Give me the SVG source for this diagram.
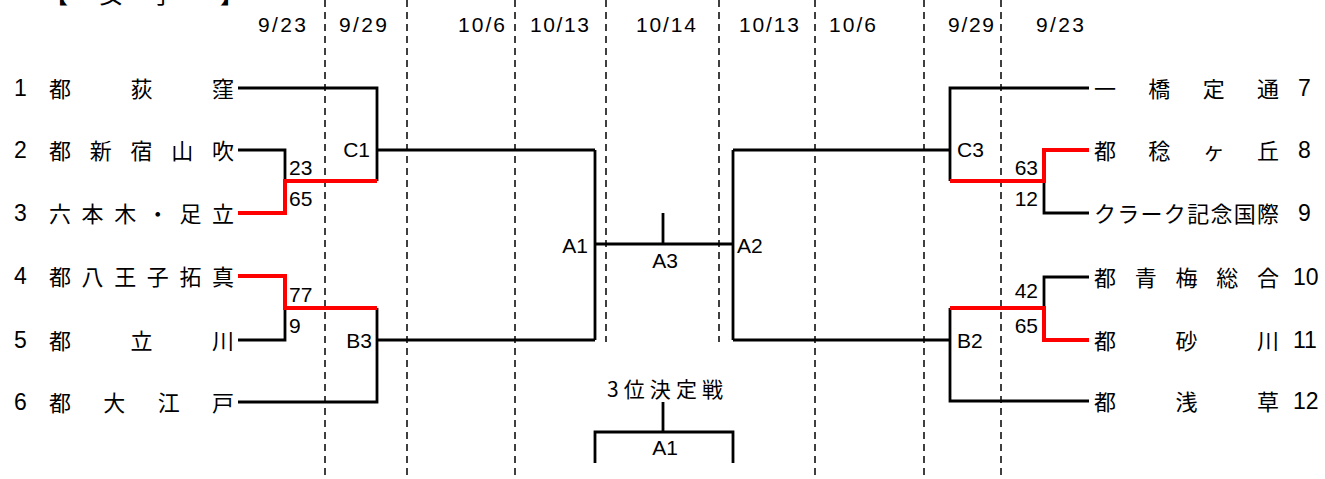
<svg xmlns="http://www.w3.org/2000/svg" width="1325" height="479" viewBox="0 0 1325 479">
<style>
.ln{stroke:#000;stroke-width:2.8;fill:none}
.win{stroke:#ff0000;stroke-width:4;fill:none}
.dash{stroke:#000;stroke-width:1.5;stroke-dasharray:7 5;fill:none}
.name{font-family:"Noto Sans CJK JP","Noto Sans CJK SC",sans-serif;font-size:22px;fill:#000}
.num{font-family:"Liberation Sans",Arial,sans-serif;font-size:23px;fill:#000}
.lbl{font-family:"Liberation Sans",Arial,sans-serif;font-size:21px;fill:#000}
.date{font-family:"Liberation Sans",Arial,sans-serif;font-size:21px;fill:#000}
</style>
<rect width="1325" height="479" fill="#fff"/>
<g id="title">
<text class="name" y="3" x="44 99 151 220" style="font-size:24px">【女子】</text>
</g>
<g id="grid">
<line class="dash" x1="325" y1="0" x2="325" y2="479"/>
<line class="dash" x1="407" y1="0" x2="407" y2="479"/>
<line class="dash" x1="515" y1="0" x2="515" y2="479"/>
<line class="dash" x1="606" y1="0" x2="606" y2="342"/>
<line class="dash" x1="719" y1="0" x2="719" y2="342"/>
<line class="dash" x1="815" y1="0" x2="815" y2="479"/>
<line class="dash" x1="924" y1="0" x2="924" y2="479"/>
<line class="dash" x1="1001" y1="0" x2="1001" y2="479"/>
</g>
<g id="dates">
<text class="date" x="258" y="32" textLength="48" lengthAdjust="spacing">9/23</text>
<text class="date" x="339" y="32" textLength="48" lengthAdjust="spacing">9/29</text>
<text class="date" x="458" y="32" textLength="47" lengthAdjust="spacing">10/6</text>
<text class="date" x="530" y="32" textLength="59" lengthAdjust="spacing">10/13</text>
<text class="date" x="636" y="32" textLength="60" lengthAdjust="spacing">10/14</text>
<text class="date" x="739" y="32" textLength="60" lengthAdjust="spacing">10/13</text>
<text class="date" x="829" y="32" textLength="47" lengthAdjust="spacing">10/6</text>
<text class="date" x="948" y="32" textLength="46" lengthAdjust="spacing">9/29</text>
<text class="date" x="1036" y="32" textLength="48" lengthAdjust="spacing">9/23</text>
</g>
<g id="connectors">
<path class="ln" d="M238,88 H377 V181"/>
<path class="ln" d="M238,150 H285 V181"/>
<path class="ln" d="M377,150 H595"/>
<path class="ln" d="M238,340 H285 V308"/>
<path class="ln" d="M238,402 H377 V308"/>
<path class="ln" d="M377,340 H595"/>
<path class="ln" d="M595,150 V340"/>
<path class="ln" d="M595,244 H733"/>
<path class="ln" d="M663,213 V244"/>
<path class="ln" d="M733,150 V340"/>
<path class="ln" d="M733,150 H950"/>
<path class="ln" d="M733,340 H950"/>
<path class="ln" d="M1089,88 H950 V181"/>
<path class="ln" d="M1089,213 H1044 V181"/>
<path class="ln" d="M1089,277 H1044 V308"/>
<path class="ln" d="M1089,401 H950 V308"/>
<path class="ln" d="M663,402 V432"/>
<path class="ln" d="M595,463 V432 H733 V463"/>
<path class="win" d="M238,213 H285 V181 H377"/>
<path class="win" d="M238,276 H285 V308 H377"/>
<path class="win" d="M950,181 H1044 V150 H1089"/>
<path class="win" d="M950,308 H1044 V340 H1089"/>
</g>
<g id="team-1"><text class="num" x="14" y="96">1</text><text class="name" x="49" y="97" textLength="185" lengthAdjust="spacing">都　荻　窪</text></g>
<g id="team-2"><text class="num" x="14" y="158">2</text><text class="name" x="49" y="159" textLength="185" lengthAdjust="spacing">都新宿山吹</text></g>
<g id="team-3"><text class="num" x="14" y="221">3</text><text class="name" x="49" y="222" textLength="185" lengthAdjust="spacing">六本木・足立</text></g>
<g id="team-4"><text class="num" x="14" y="284">4</text><text class="name" x="49" y="285" textLength="185" lengthAdjust="spacing">都八王子拓真</text></g>
<g id="team-5"><text class="num" x="14" y="348">5</text><text class="name" x="49" y="349" textLength="185" lengthAdjust="spacing">都　立　川</text></g>
<g id="team-6"><text class="num" x="14" y="410">6</text><text class="name" x="49" y="411" textLength="185" lengthAdjust="spacing">都大江戸</text></g>
<g id="team-7"><text class="name" x="1094" y="97" textLength="185" lengthAdjust="spacing">一橋定通</text><text class="num" x="1298" y="96">7</text></g>
<g id="team-8"><text class="name" x="1094" y="159" textLength="185" lengthAdjust="spacing">都稔ヶ丘</text><text class="num" x="1298" y="158">8</text></g>
<g id="team-9"><text class="name" x="1094" y="222" textLength="185" lengthAdjust="spacing">クラーク記念国際</text><text class="num" x="1298" y="221">9</text></g>
<g id="team-10"><text class="name" x="1094" y="286" textLength="185" lengthAdjust="spacing">都青梅総合</text><text class="num" x="1293" y="285">10</text></g>
<g id="team-11"><text class="name" x="1094" y="349" textLength="185" lengthAdjust="spacing">都　砂　川</text><text class="num" x="1293" y="348">11</text></g>
<g id="team-12"><text class="name" x="1094" y="410" textLength="185" lengthAdjust="spacing">都　浅　草</text><text class="num" x="1293" y="409">12</text></g>
<g id="match-C1"><text class="lbl" x="370" y="157" text-anchor="end">C1</text><text class="lbl" x="289" y="175">23</text><text class="lbl" x="289" y="206">65</text></g>
<g id="match-B3"><text class="lbl" x="372" y="348" text-anchor="end">B3</text><text class="lbl" x="289" y="302">77</text><text class="lbl" x="289" y="333">9</text></g>
<g id="match-A1"><text class="lbl" x="588" y="253" text-anchor="end">A1</text></g>
<g id="match-A3"><text class="lbl" x="665" y="268" text-anchor="middle">A3</text></g>
<g id="match-A2"><text class="lbl" x="737" y="253">A2</text></g>
<g id="match-C3"><text class="lbl" x="957" y="157">C3</text><text class="lbl" x="1038" y="175" text-anchor="end">63</text><text class="lbl" x="1038" y="206" text-anchor="end">12</text></g>
<g id="match-B2"><text class="lbl" x="957" y="348">B2</text><text class="lbl" x="1038" y="298" text-anchor="end">42</text><text class="lbl" x="1038" y="333" text-anchor="end">65</text></g>
<g id="third-place"><text class="name" x="607" y="397" textLength="116" lengthAdjust="spacing" style="font-size:21px">3位決定戦</text><text class="lbl" x="665" y="455" text-anchor="middle">A1</text></g>
</svg>
